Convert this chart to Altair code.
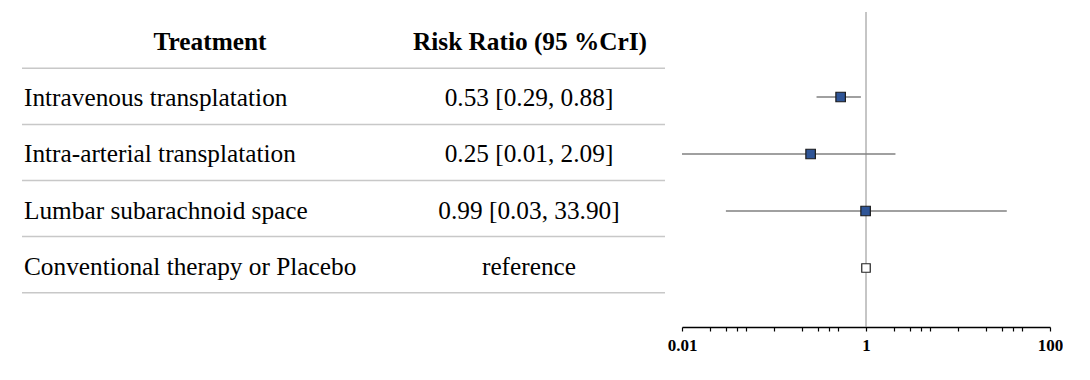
import altair as alt
import pandas as pd

treatments = ["Intravenous transplatation", "Intra-arterial transplatation",
              "Lumbar subarachnoid space", "Conventional therapy or Placebo"]
rr_text = ["0.53 [0.29, 0.88]", "0.25 [0.01, 2.09]", "0.99 [0.03, 33.90]", "reference"]
rr = [0.53, 0.25, 0.99, 1.0]
lower = [0.29, 0.01, 0.03, None]
upper = [0.88, 2.09, 33.90, None]
is_ref = [False, False, False, True]
headers = ["Treatment", "Risk Ratio (95 %CrI)"]
tick_vals = [0.01, 0.02, 0.03, 0.04, 0.05, 0.1, 0.2, 0.3, 0.4, 0.5, 1,
             2, 3, 4, 5, 10, 20, 30, 40, 50, 100]
label_vals = [0.01, 1, 100]

rows = pd.DataFrame({
    "row": [1, 2, 3, 4],
    "treatment": treatments,
    "rr_text": rr_text,
    "rr": rr,
    "lower": lower,
    "upper": upper,
    "ref": is_ref,
})
lines = pd.DataFrame({"y": [0.5, 1.5, 2.5, 3.5, 4.5]})
head = pd.DataFrame({"row": [0], "h1": [headers[0]], "h2": [headers[1]]})

FONT = "Liberation Serif"
FS = 25.3
H = 319
tab_y = alt.Scale(domain=[-0.575, 5.111], reverse=True, nice=False, zero=False)

tbase = alt.Chart(rows)
t_rows = tbase.mark_text(align="left", baseline="middle", font=FONT, fontSize=FS,
                         color="black", dy=2).encode(
    x=alt.value(16), y=alt.Y("row:Q", scale=tab_y, axis=None), text="treatment:N")
t_vals = tbase.mark_text(align="center", baseline="middle", font=FONT, fontSize=FS,
                         color="black", dy=2).encode(
    x=alt.value(521), y=alt.Y("row:Q", scale=tab_y, axis=None), text="rr_text:N")
hb = alt.Chart(head)
t_h1 = hb.mark_text(align="center", baseline="middle", font=FONT, fontSize=FS,
                    fontWeight="bold", color="black", dy=2).encode(
    x=alt.value(202), y=alt.Y("row:Q", scale=tab_y, axis=None), text="h1:N")
t_h2 = hb.mark_text(align="center", baseline="middle", font=FONT, fontSize=FS,
                    fontWeight="bold", color="black", dy=2).encode(
    x=alt.value(522), y=alt.Y("row:Q", scale=tab_y, axis=None), text="h2:N")
t_lines = alt.Chart(lines).mark_rule(color="#c8c8c8", strokeWidth=1.5).encode(
    x=alt.value(14), x2=alt.value(657), y=alt.Y("y:Q", scale=tab_y, axis=None))

table = alt.layer(t_lines, t_rows, t_vals, t_h1, t_h2).properties(width=666, height=H)

f_y = alt.Scale(domain=[-0.561, 5.035], reverse=True, nice=False, zero=False)
xs = alt.Scale(type="log", domain=[0.01, 100], nice=False)
fbase = alt.Chart(rows)
vline = alt.Chart(pd.DataFrame({"x": [1], "y": [-0.491], "y2": [5.035]})).mark_rule(
    color="#8c8c8c", strokeWidth=1).encode(
    x=alt.X("x:Q", scale=xs,
            axis=alt.Axis(values=tick_vals, title=None, grid=False,
                          domainColor="black", domainWidth=1.5, tickColor="black",
                          tickWidth=1.2, tickSize=4, labelFont=FONT, labelFontSize=17,
                          labelFontWeight="bold", labelColor="black", labelPadding=6,
                          labelExpr="indexof([0.01, 1, 100], datum.value) >= 0 ? datum.label : ''",
                          format="~g", labelFlush=False, labelOverlap=False)),
    y=alt.Y("y:Q", scale=f_y, axis=None), y2="y2:Q")
ci = fbase.transform_filter("datum.lower != null").mark_rule(
    color="#808080", strokeWidth=1.5).encode(
    x=alt.X("lower:Q", scale=xs), x2="upper:Q", y=alt.Y("row:Q", scale=f_y, axis=None))
pts = fbase.transform_filter("!datum.ref").mark_square(
    size=90, fill="#2f5597", stroke="#1a1a1a", strokeWidth=1.2, opacity=1).encode(
    x=alt.X("rr:Q", scale=xs), y=alt.Y("row:Q", scale=f_y, axis=None))
refp = fbase.transform_filter("datum.ref").mark_square(
    size=72, fill="white", stroke="#222222", strokeWidth=1.2, opacity=1).encode(
    x=alt.X("rr:Q", scale=xs), y=alt.Y("row:Q", scale=f_y, axis=None))

forest = alt.layer(vline, ci, pts, refp).properties(width=368, height=H)

chart = alt.hconcat(table, forest, spacing=8, bounds="flush").configure_view(
    stroke=None).properties(padding=0)

chart.save("out.html", embed_options={"renderer": "svg", "actions": False})
